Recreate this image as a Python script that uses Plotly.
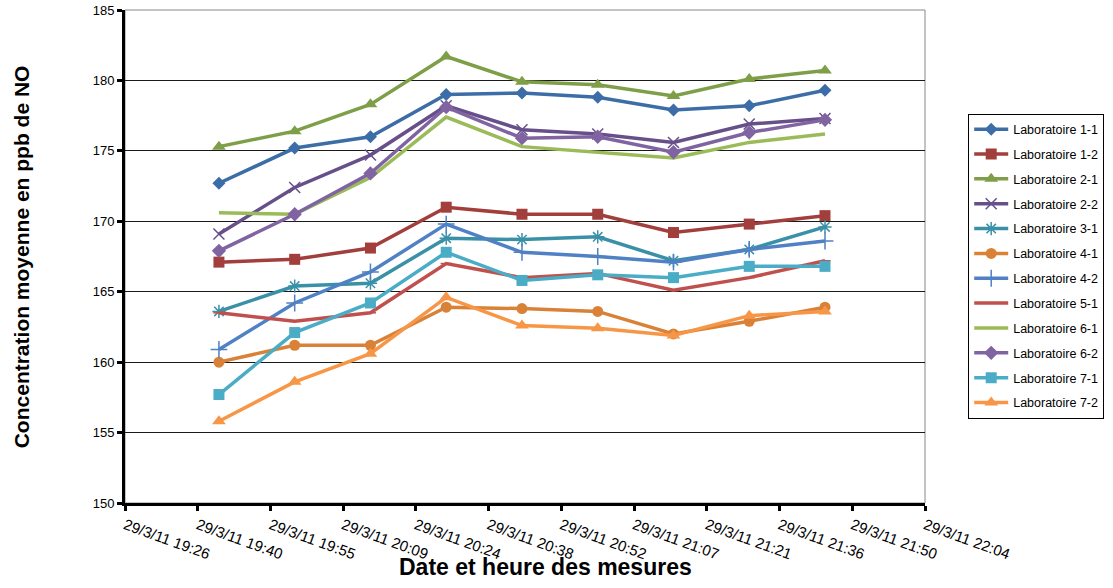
import plotly.graph_objects as go

times = ["2011-03-29 19:45", "2011-03-29 20:00", "2011-03-29 20:15", "2011-03-29 20:30",
         "2011-03-29 20:45", "2011-03-29 21:00", "2011-03-29 21:15", "2011-03-29 21:30",
         "2011-03-29 21:45"]

labs = ["Laboratoire 1-1", "Laboratoire 1-2", "Laboratoire 2-1", "Laboratoire 2-2",
        "Laboratoire 3-1", "Laboratoire 4-1", "Laboratoire 4-2", "Laboratoire 5-1",
        "Laboratoire 6-1", "Laboratoire 6-2", "Laboratoire 7-1", "Laboratoire 7-2"]

lab_1_1 = [172.7, 175.2, 176.0, 179.0, 179.1, 178.8, 177.9, 178.2, 179.3]
lab_1_2 = [167.1, 167.3, 168.1, 171.0, 170.5, 170.5, 169.2, 169.8, 170.4]
lab_2_1 = [175.3, 176.4, 178.3, 181.7, 179.9, 179.7, 178.9, 180.1, 180.7]
lab_2_2 = [169.1, 172.4, 174.7, 178.2, 176.5, 176.2, 175.6, 176.9, 177.3]
lab_3_1 = [163.6, 165.4, 165.6, 168.8, 168.7, 168.9, 167.2, 168.0, 169.6]
lab_4_1 = [160.0, 161.2, 161.2, 163.9, 163.8, 163.6, 162.0, 162.9, 163.9]
lab_4_2 = [160.9, 164.2, 166.4, 169.8, 167.8, 167.5, 167.1, 168.0, 168.6]
lab_5_1 = [163.5, 162.9, 163.5, 167.0, 166.0, 166.3, 165.1, 166.0, 167.2]
lab_6_1 = [170.6, 170.5, 173.1, 177.4, 175.3, 174.9, 174.5, 175.6, 176.2]
lab_6_2 = [167.9, 170.5, 173.4, 178.1, 175.9, 176.0, 174.9, 176.3, 177.2]
lab_7_1 = [157.7, 162.1, 164.2, 167.8, 165.8, 166.2, 166.0, 166.8, 166.8]
lab_7_2 = [155.8, 158.6, 160.6, 164.6, 162.6, 162.4, 161.9, 163.3, 163.6]

series = [lab_1_1, lab_1_2, lab_2_1, lab_2_2, lab_3_1, lab_4_1,
          lab_4_2, lab_5_1, lab_6_1, lab_6_2, lab_7_1, lab_7_2]

colors = ["#3C6DA7", "#A23E3B", "#7E9E47", "#67508A", "#3A91A7", "#D98237",
          "#4F81C4", "#C0504D", "#9BBB59", "#8064A2", "#4BACC6", "#F79646"]

symbols = ["diamond", "square", "triangle-up", "x-thin", "asterisk", "circle",
           "cross-thin", "line-ew", None, "diamond", "square", "triangle-up"]
sizes = [10, 11, 12, 11, 11, 11, 12, 8, 0, 11, 11, 12]

tick_vals = ["2011-03-29 19:26:24", "2011-03-29 19:40:48", "2011-03-29 19:55:12",
             "2011-03-29 20:09:36", "2011-03-29 20:24:00", "2011-03-29 20:38:24",
             "2011-03-29 20:52:48", "2011-03-29 21:07:12", "2011-03-29 21:21:36",
             "2011-03-29 21:36:00", "2011-03-29 21:50:24", "2011-03-29 22:04:48"]
tick_text = ["29/3/11 19:26", "29/3/11 19:40", "29/3/11 19:55", "29/3/11 20:09",
             "29/3/11 20:24", "29/3/11 20:38", "29/3/11 20:52", "29/3/11 21:07",
             "29/3/11 21:21", "29/3/11 21:36", "29/3/11 21:50", "29/3/11 22:04"]

FONT = "Liberation Sans, Arial, sans-serif"

fig = go.Figure()
for i, (name, vals) in enumerate(zip(labs, series)):
    sym = symbols[i]
    if sym is None:
        fig.add_trace(go.Scatter(x=times, y=vals, name=name, mode="lines",
                                 line=dict(color=colors[i], width=3.5),
                                 legendgroup=name))
    else:
        thin = sym in ("x-thin", "asterisk", "cross-thin", "line-ew")
        fig.add_trace(go.Scatter(
            x=times, y=vals, name=name, mode="lines+markers",
            line=dict(color=colors[i], width=3.5),
            marker=dict(symbol=sym, size=sizes[i], color=colors[i],
                        line=dict(color=colors[i], width=1.5 if thin else 0)),
            legendgroup=name))

fig.add_shape(type="rect", xref="paper", yref="paper", x0=0, y0=0, x1=1, y1=1,
              line=dict(color="#888888", width=1), layer="below")

fig.update_layout(
    width=1113, height=588,
    margin=dict(l=125, r=188, t=10, b=85, autoexpand=False),
    paper_bgcolor="white", plot_bgcolor="white",
    font=dict(family=FONT, color="black", size=13),
    showlegend=True,
    legend=dict(x=1.054, y=0.79, xanchor="left", yanchor="top",
                bordercolor="black", borderwidth=1, bgcolor="white",
                font=dict(family=FONT, size=12.5, color="black"),
                traceorder="grouped", tracegroupgap=5.6,
                itemwidth=34),
    xaxis=dict(
        type="date", automargin=False,
        range=["2011-03-29 19:26:24", "2011-03-29 22:04:48"],
        tickmode="array", tickvals=tick_vals, ticktext=tick_text,
        tickangle=20, tickfont=dict(size=15, family=FONT),
        showgrid=False, zeroline=False,
        showline=True, linecolor="black", linewidth=3,
        ticks="outside", ticklen=5, tickwidth=3, tickcolor="black",
        ticklabeloverflow="allow",
    ),
    yaxis=dict(
        range=[150, 185], tickmode="array", automargin=False,
        tickvals=[150, 155, 160, 165, 170, 175, 180, 185],
        tickfont=dict(size=13, family=FONT),
        showgrid=True, gridcolor="#1a1a1a", gridwidth=1, zeroline=False,
        showline=True, linecolor="black", linewidth=3,
        ticks="outside", ticklen=5, tickwidth=3, tickcolor="black",
        ticklabeloverflow="allow",
    ),
    annotations=[
        dict(text="<b>Date et heure des mesures</b>", xref="paper", yref="paper",
             x=0.525, y=-0.13, xanchor="center", yanchor="middle", showarrow=False,
             font=dict(size=23, family=FONT, color="black")),
        dict(text="<b>Concentration moyenne en ppb de NO</b>", xref="paper", yref="paper",
             x=-0.129, y=0.5, xanchor="center", yanchor="middle", showarrow=False,
             textangle=-90, font=dict(size=21, family=FONT, color="black")),
    ],
)

fig.write_html("out.html", config={"displayModeBar": False},
               post_script="document.body.style.margin='0';document.body.style.padding='0';")
